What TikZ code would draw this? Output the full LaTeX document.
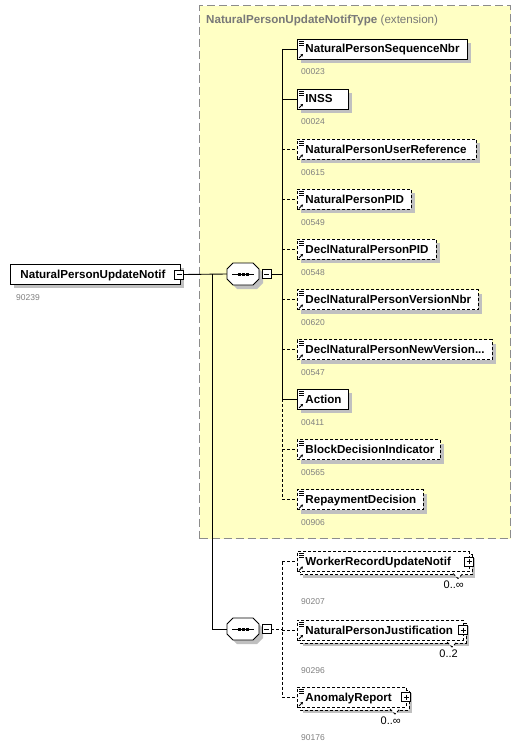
\documentclass[tikz,border=0pt]{standalone}
\usepackage{fontspec}
\setmainfont{Liberation Sans}
\usetikzlibrary{calc,arrows.meta}
\definecolor{extfill}{RGB}{255,255,196}
\definecolor{extborder}{RGB}{140,140,140}
\definecolor{shadowc}{RGB}{192,192,192}
\definecolor{idgray}{RGB}{128,128,128}
\definecolor{titlegray}{RGB}{120,120,120}
\tikzset{
  elbox/.style={draw=black, fill=white, line width=0.9pt, minimum height=20pt, inner xsep=0pt, inner ysep=0pt, align=left, text height=9.5pt, text depth=1.5pt, font=\fontsize{11.6}{13}\selectfont\bfseries},
  reqb/.style={solid},
  optb/.style={dash pattern=on 3pt off 2pt},
  conn/.style={draw=black, line width=0.9pt},
  idlab/.style={anchor=base west, inner sep=0pt, text=idgray, font=\fontsize{8.5}{10}\selectfont},
  multlab/.style={anchor=base east, inner sep=0pt, font=\fontsize{11}{13}\selectfont},
  pmb/.style={draw=black, fill=white, line width=0.8pt, minimum size=9pt, inner sep=0pt},
  seqn/.style={minimum width=32pt, minimum height=22pt, inner sep=0pt},
  iconline/.style={line width=0.8pt},
  extbox/.style={draw=extborder, fill=extfill, line width=1.2pt, dash pattern=on 8pt off 4pt, inner sep=0pt},
}
\newcommand\elicon[1]{%
  \draw[iconline] ($(#1.north west)+(2,2.5)$) -- +(5,0);
  \draw[iconline] ($(#1.north west)+(2,4.5)$) -- +(5,0);
  \draw[iconline] ($(#1.north west)+(2,6.5)$) -- +(5,0);
  \draw[line width=0.8pt,-{Stealth[length=2.5pt,width=2.8pt]}] ($(#1.south west)+(2,-1.5)$) -- +(4,-4);
}
\newcommand\minussign[1]{\draw[line width=0.8pt] ($(#1.center)+(-2.5,0)$) -- ($(#1.center)+(2.5,0)$);}
\newcommand\plussign[1]{\minussign{#1}\draw[line width=0.8pt] ($(#1.center)+(0,-2.5)$) -- ($(#1.center)+(0,2.5)$);}
% name x0 x1 yc text id borderstyle
\newcommand\elem[7]{%
  \pgfmathsetmacro\elw{#3-#2}%
  \fill[shadowc] (#2+4,#4-6) rectangle (#3+4,#4+14);
  \node[elbox,#7,minimum width=\elw pt,text width=\elw pt,anchor=west] (#1) at (#2,#4) {\hspace*{8pt}\mbox{#5}};
  \elicon{#1}
  \node[idlab] (#1id) at (#2+4,#4+26) {#6};
}
% name x0 x1 yc text id mult
\newcommand\melem[7]{%
  \pgfmathsetmacro\elw{#3-#2}%
  \fill[shadowc] (#2+6,#4-4) rectangle (#3+6,#4+16);
  \filldraw[fill=white,draw=black,line width=0.9pt,optb] (#2+3,#4-7) rectangle (#3+3,#4+13);
  \node[elbox,optb,minimum width=\elw pt,text width=\elw pt,anchor=west] (#1) at (#2,#4) {\hspace*{8pt}\mbox{#5}};
  \fill[white] (#3-16,#4+12) -- (#3-11,#4+17) -- (#3-6,#4+12) -- cycle;
  \draw[line width=0.9pt,optb] (#3-16,#4+12) -- (#3-11,#4+17) -- (#3-6,#4+12);
  \elicon{#1}
  \node[pmb] (#1pm) at (#3,#4) {};
  \plussign{#1pm}
  \node[multlab] (#1mult) at (#3-5,#4+27) {#7};
  \node[idlab] (#1id) at (#2+4,#4+43) {#6};
}
% name cx cy
\newcommand\seqsym[3]{%
  \fill[shadowc,shift={(4,4)}] (#2-16,#3-5) -- (#2-10,#3-11) -- (#2+10,#3-11) -- (#2+16,#3-5) -- (#2+16,#3+5) -- (#2+10,#3+11) -- (#2-10,#3+11) -- (#2-16,#3+5) -- cycle;
  \filldraw[fill=white,draw=black,line width=0.9pt] (#2-16,#3-5) -- (#2-10,#3-11) -- (#2+10,#3-11) -- (#2+16,#3-5) -- (#2+16,#3+5) -- (#2+10,#3+11) -- (#2-10,#3+11) -- (#2-16,#3+5) -- cycle;
  \node[seqn] (#1) at (#2,#3) {};
  \draw[line width=0.9pt] (#2-11,#3) -- (#2+11,#3);
  \fill (#2-5.5,#3-1.5) rectangle +(3,3);
  \fill (#2-1.5,#3-1.5) rectangle +(3,3);
  \fill (#2+2.5,#3-1.5) rectangle +(3,3);
  \node[pmb] (#1pm) at (#2+23.5,#3) {};
  \minussign{#1pm}
}
\begin{document}
\begin{tikzpicture}[x=1pt,y=-1pt]
\useasboundingbox (0,0) rectangle (528,751);
% extension box
\node[extbox,minimum width=311pt,minimum height=533pt,anchor=north west] (ext) at (199,5) {};
\node[anchor=base west,inner sep=0pt,text=titlegray,font=\fontsize{11.6}{13}\selectfont] (title) at (206,23.5) {\textbf{NaturalPersonUpdateNotifType} (extension)};
% coordinates for buses
\coordinate (busx) at (282,0);
\coordinate (j1) at (212,274);
% main element
\fill[shadowc] (14,268) rectangle (184,288);
\node[elbox,reqb,minimum width=170pt,text width=170pt,anchor=west] (main) at (10,274) {\hspace*{10pt}\mbox{NaturalPersonUpdateNotif}};
\node[pmb] (mainpm) at (179,274.5) {};
\minussign{mainpm}
\node[idlab] (mainid) at (16,300) {90239};
% sequences
\seqsym{seqa}{243}{274}
\seqsym{seqb}{243}{629}
% inner elements
\elem{seqnbr}{297}{467}{49}{NaturalPersonSequenceNbr}{00023}{reqb}
\elem{inss}{297}{348}{99}{INSS}{00024}{reqb}
\elem{userref}{297}{476}{149.5}{NaturalPersonUserReference}{00615}{optb}
\elem{pid}{297}{411}{199.5}{NaturalPersonPID}{00549}{optb}
\elem{declpid}{297}{436}{249}{DeclNaturalPersonPID}{00548}{optb}
\elem{declver}{297}{478}{299.5}{DeclNaturalPersonVersionNbr}{00620}{optb}
\elem{declnew}{297}{492}{349.5}{DeclNaturalPersonNewVersion...}{00547}{optb}
\elem{action}{297}{348}{399}{Action}{00411}{reqb}
\elem{blockdec}{297}{440}{449.5}{BlockDecisionIndicator}{00565}{optb}
\elem{repay}{297}{423}{499.5}{RepaymentDecision}{00906}{optb}
% lower elements
\melem{worker}{297}{469}{561.5}{WorkerRecordUpdateNotif}{90207}{0..∞}
\melem{justif}{297}{463}{630}{NaturalPersonJustification}{90296}{0..2}
\melem{anomaly}{297}{406}{697}{AnomalyReport}{90176}{0..∞}
% connectors
\draw[conn] (mainpm.east) -- (seqa.west);
\draw[conn] (j1) |- (seqb.west);
\draw[conn] (seqapm.east) -- (busx |- seqapm.east);
\draw[conn] (busx |- seqnbr.west) -- (busx |- action.west);
\draw[conn,optb] (busx |- action.west) -- (busx |- repay.west);
\draw[conn] (busx |- seqnbr.west) -- (seqnbr.west);
\draw[conn] (busx |- inss.west) -- (inss.west);
\draw[conn,optb] (busx |- userref.west) -- (userref.west);
\draw[conn,optb] (busx |- pid.west) -- (pid.west);
\draw[conn,optb] (busx |- declpid.west) -- (declpid.west);
\draw[conn,optb] (busx |- declver.west) -- (declver.west);
\draw[conn,optb] (busx |- declnew.west) -- (declnew.west);
\draw[conn] (busx |- action.west) -- (action.west);
\draw[conn,optb] (busx |- blockdec.west) -- (blockdec.west);
\draw[conn,optb] (busx |- repay.west) -- (repay.west);
\draw[conn,optb] (seqbpm.east) -- (busx |- seqbpm.east);
\draw[conn,optb] (busx |- worker.west) -- (busx |- anomaly.west);
\draw[conn,optb] (busx |- worker.west) -- (worker.west);
\draw[conn,optb] (busx |- justif.west) -- (justif.west);
\draw[conn,optb] (busx |- anomaly.west) -- (anomaly.west);
\end{tikzpicture}
\end{document}
